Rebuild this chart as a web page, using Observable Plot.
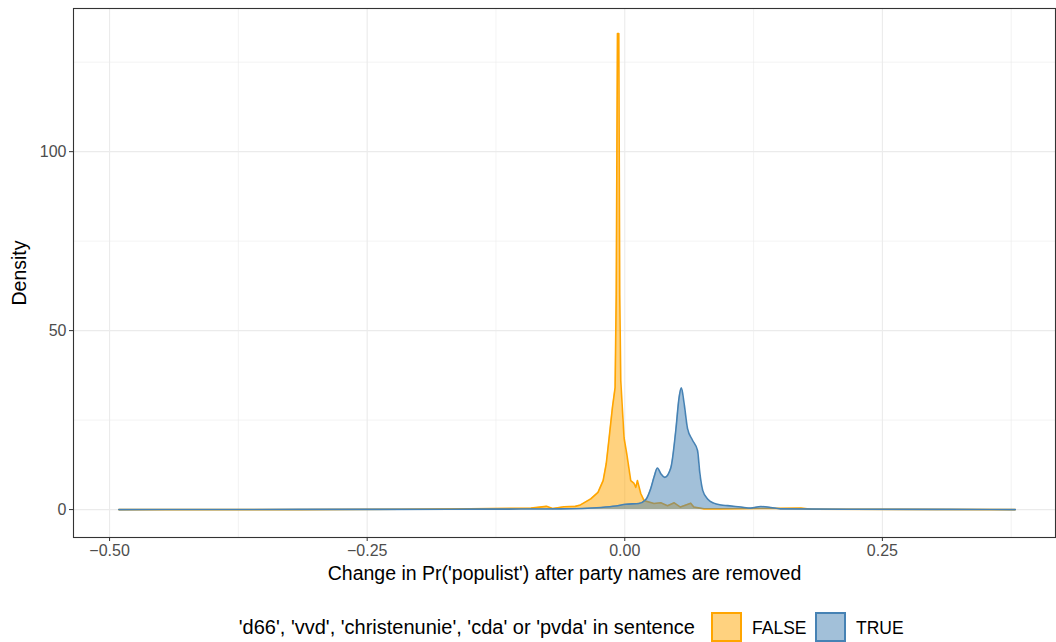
<!DOCTYPE html>
<html>
<head>
<meta charset="utf-8">
<script src="https://cdn.jsdelivr.net/npm/d3@7"></script>
<script src="https://cdn.jsdelivr.net/npm/@observablehq/plot@0.6"></script>
<style>
  html, body { margin: 0; padding: 0; background: #fff; }
  body { width: 1056px; height: 642px; overflow: hidden; font-family: "Liberation Sans", Arial, sans-serif; }
  #legend { position: relative; height: 42px; width: 1056px; }
  #legend .t { position: absolute; top: 16px; font-size: 20px; line-height: 22px; color: #000; white-space: nowrap; }
  #legend .t.s { font-size: 17.5px; top: 17px; }
  #legend .k { position: absolute; top: 12px; width: 31px; height: 30px; box-sizing: border-box; border: 2px solid; }
</style>
</head>
<body>
<div id="chart"></div>
<div id="legend"></div>
<script>
// ---- data ----
const groups = ["FALSE", "TRUE"];
const falseX = [-0.491, -0.315, -0.217, -0.150, -0.091, -0.076, -0.070, -0.059, -0.048, -0.043, -0.033, -0.026, -0.021, -0.018, -0.0155, -0.012, -0.0094, -0.0083, -0.0071, -0.0058, -0.0049, -0.0039, -0.0007, 0.0019, 0.0058, 0.009, 0.0107, 0.0123, 0.0155, 0.0187, 0.0284, 0.035, 0.0415, 0.048, 0.054, 0.064, 0.067, 0.077, 0.093, 0.132, 0.171, 0.181, 0.268, 0.379];
const falseY = [0, 0, 0.1, 0.2, 0.4, 0.9, 0.3, 0.8, 0.9, 1.3, 3.0, 4.8, 8.1, 12.8, 19.2, 28.5, 34.1, 60, 133, 133, 60, 36, 20, 15.6, 8.1, 7.3, 6.2, 8.1, 4.5, 2.5, 1.7, 1.9, 1.1, 1.9, 0.7, 1.8, 0.7, 0.2, 0.2, 0.3, 0.4, 0.1, 0.05, 0];
const trueX = [-0.491, -0.315, -0.169, -0.101, -0.062, -0.023, -0.0087, 0.001, 0.0136, 0.0204, 0.0252, 0.0284, 0.0317, 0.035, 0.0388, 0.0447, 0.0495, 0.0527, 0.0549, 0.0576, 0.0609, 0.0655, 0.0706, 0.0728, 0.0757, 0.0806, 0.0864, 0.0932, 0.1, 0.1126, 0.1223, 0.132, 0.1417, 0.151, 0.219, 0.316, 0.379];
const trueY = [0, 0.05, 0.1, 0.15, 0.2, 0.6, 1.0, 1.5, 1.7, 2.8, 5.9, 9.1, 11.6, 10.0, 9.0, 11.7, 22.1, 31.3, 34.0, 29.6, 22.6, 19.5, 16.5, 10.3, 5.3, 2.9, 1.8, 1.3, 1.1, 0.7, 0.4, 0.85, 0.6, 0.2, 0.1, 0.05, 0];
const xTicks = [-0.5, -0.25, 0, 0.25];
const xMinor = [-0.375, -0.125, 0.125, 0.375];
const yTicks = [0, 50, 100];
const yMinor = [25, 75, 125];
const colors = {FALSE: "#FFA500", TRUE: "#4682B4"};
const curves = {FALSE: "linear", TRUE: "monotone-x"};
const legendTitle = "'d66', 'vvd', 'christenunie', 'cda' or 'pvda' in sentence";
const xLabel = "Change in Pr('populist') after party names are removed";
const yLabel = "Density";

const rows = [
  ...falseX.map((x, i) => ({x, y: falseY[i], g: "FALSE"})),
  ...trueX.map((x, i) => ({x, y: trueY[i], g: "TRUE"}))
];
const fmt = d3.format(".2f");

const marks = [
  Plot.ruleX(xMinor, {stroke: "#EBEBEB", strokeWidth: 0.6}),
  Plot.ruleY(yMinor, {stroke: "#EBEBEB", strokeWidth: 0.6}),
  Plot.ruleX(xTicks, {stroke: "#EBEBEB", strokeWidth: 1.1}),
  Plot.ruleY(yTicks, {stroke: "#EBEBEB", strokeWidth: 1.1})
];
for (const g of groups) {
  const d = rows.filter(r => r.g === g);
  marks.push(Plot.areaY(d, {x: "x", y: "y", fill: colors[g], fillOpacity: 0.5, curve: curves[g]}));
  marks.push(Plot.lineY(d, {x: "x", y: "y", stroke: colors[g], strokeWidth: 1.6, curve: curves[g]}));
}
marks.push(
  Plot.frame({stroke: "#333333", strokeWidth: 1.1}),
  Plot.axisX(xTicks, {tickFormat: fmt, tickSize: 4, tickPadding: 3, stroke: "#333333", color: "#4D4D4D", fontSize: 16, label: null}),
  Plot.axisY(yTicks, {tickSize: 4, tickPadding: 3, stroke: "#333333", color: "#4D4D4D", fontSize: 16, label: null}),
  Plot.text([xLabel], {frameAnchor: "bottom", lineAnchor: "middle", dy: 36, fontSize: 19.5, fill: "#000"}),
  Plot.text([yLabel], {frameAnchor: "left", textAnchor: "middle", lineAnchor: "middle", dx: -54, rotate: -90, fontSize: 19.5, fill: "#000"})
);

const chart = Plot.plot({
  width: 1056,
  height: 600,
  marginLeft: 73,
  marginRight: 1,
  marginTop: 8,
  marginBottom: 63,
  style: {fontFamily: "'Liberation Sans', Arial, sans-serif", fontSize: "16px", color: "#000", background: "#fff", overflow: "visible"},
  x: {domain: [-0.535, 0.418]},
  y: {domain: [-7.8, 140]},
  marks
});
document.getElementById("chart").appendChild(chart);

// legend below the svg
const leg = document.getElementById("legend");
const add = (cls, pos, text, col) => {
  const el = document.createElement("div");
  el.className = cls;
  Object.assign(el.style, pos);
  if (text) el.textContent = text;
  if (col) { el.style.borderColor = col; el.style.background = d3.color(col).copy({opacity: 0.5}).formatRgb(); }
  leg.appendChild(el);
  return el;
};
add("t", {right: (1056 - 695) + "px"}, legendTitle);
add("k", {left: "711px"}, null, colors.FALSE);
add("t s", {left: "752px"}, "FALSE");
add("k", {left: "815px"}, null, colors.TRUE);
add("t s", {left: "856px"}, "TRUE");
</script>
</body>
</html>
